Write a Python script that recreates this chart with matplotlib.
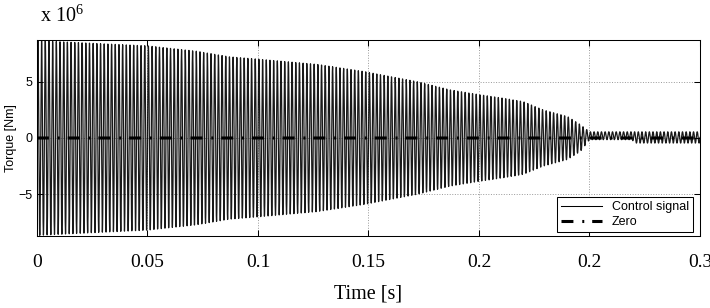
import numpy as np
import matplotlib
matplotlib.use('Agg')
import matplotlib.pyplot as plt

# envelope of the control signal (units of 1e6 Nm)
env_t     = [0.0, 0.01, 0.027, 0.05, 0.072, 0.087, 0.1, 0.127, 0.148, 0.172, 0.187,
             0.2, 0.211, 0.22, 0.229, 0.24, 0.246, 0.25, 0.269, 0.271, 0.3]
env_upper = [8.65, 8.55, 8.39, 8.18, 7.71, 7.21, 7.0, 6.53, 5.9, 5.0, 4.27,
             3.85, 3.53, 3.23, 2.5, 1.91, 1.17, 0.55, 0.55, 0.55, 0.55]
env_lower = [-8.65, -8.55, -8.39, -8.18, -7.71, -7.21, -7.0, -6.53, -5.9, -5.0, -4.27,
             -3.85, -3.53, -3.23, -2.5, -1.91, -1.17, -0.15, -0.15, -0.45, -0.45]
freq_hz = 600.0   # visible stripe rate

xticks = [0, 0.05, 0.1, 0.15, 0.2, 0.25, 0.3]
xticklabels = ['0', '0.05', '0.1', '0.15', '0.2', '0.2', '0.3']
yticks = [-5, 0, 5]

t = np.linspace(0, 0.3, 12001)
up = np.interp(t, env_t, env_upper)
lo = np.interp(t, env_t, env_lower)
sig = (up + lo) / 2 + (up - lo) / 2 * np.sin(2 * np.pi * freq_hz * t)

plt.rcParams['mathtext.fontset'] = 'custom'
plt.rcParams['mathtext.rm'] = 'Liberation Serif'

fig = plt.figure(figsize=(7.1, 3.08), dpi=100)
ax = fig.add_axes([0.0521, 0.2338, 0.9338, 0.6363])

ax.plot(t, sig, color='black', lw=0.9, alpha=0.9, label='Control signal')
ax.plot(t, np.zeros_like(t), color='black', lw=2.2, label='Zero',
        dashes=(3.9, 2.9, 0.65, 2.6), dash_capstyle='butt')

ax.set_xlim(0, 0.3)
ax.set_ylim(-8.7, 8.7)
ax.set_xticks(xticks)
ax.set_xticklabels(xticklabels, fontfamily='Liberation Serif', fontsize=14)
ax.set_yticks(yticks)
ax.set_yticklabels([str(v).replace('-', '\u2212') for v in yticks],
                   fontfamily='Liberation Sans', fontsize=9)
ax.tick_params(direction='in', length=4.5, width=0.75, top=True, right=True)
ax.tick_params(axis='x', pad=13)
ax.grid(True, linestyle=':', color='#999999', lw=0.7)
for s in ax.spines.values():
    s.set_linewidth(0.75)

ax.set_xlabel('Time [s]', fontfamily='Liberation Serif', fontsize=14.5, labelpad=10)
ax.set_ylabel('Torque [Nm]', fontfamily='Liberation Sans', fontsize=9, labelpad=1)
fig.text(0.057, 0.929, r'x 10$^{\mathregular{6}}$', fontfamily='Liberation Serif',
         fontsize=14.5, va='baseline')

leg = ax.legend(loc='lower right', bbox_to_anchor=(0.9894, 0.0204), borderaxespad=0,
                prop={'family': 'Liberation Sans', 'size': 9}, fancybox=False,
                framealpha=1, edgecolor='black', handlelength=3.3,
                borderpad=0.3, labelspacing=0.25)
leg.get_frame().set_linewidth(0.75)
for h in leg.get_lines():
    h.set_alpha(1)
    if h.get_linewidth() < 1:
        h.set_linewidth(0.75)

fig.savefig('out.png', dpi=100)
